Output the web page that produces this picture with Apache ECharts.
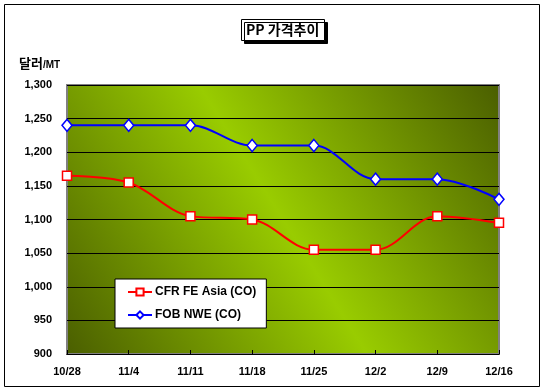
<!DOCTYPE html>
<html><head><meta charset="utf-8">
<script src="https://cdn.jsdelivr.net/npm/echarts@6/dist/echarts.min.js"></script>
<style>html,body{margin:0;padding:0;background:#fff}#c{width:542px;height:388px}</style>
</head><body><div id="c"></div>
<script>
const categories = ['10/28','11/4','11/11','11/18','11/25','12/2','12/9','12/16'];
const cfrAsia = [1165,1155,1105,1100,1055,1055,1105,1095];
const fobNwe = [1240,1240,1240,1210,1210,1160,1160,1130];
const seriesNames = ['CFR FE Asia (CO)','FOB NWE (CO)'];
const yMin = 900, yMax = 1300, yStep = 50;

const FF = 'Liberation Sans, Arial, Noto Sans CJK KR, sans-serif';
const chart = echarts.init(document.getElementById('c'));
chart.setOption({
  animation: false,
  backgroundColor: '#fff',
  title: {
    text: 'PP 가격추이',
    left: 241, top: 19,
    padding: [4, 5, 4, 5],
    backgroundColor: '#fff',
    borderColor: '#000', borderWidth: 1,
    shadowColor: '#000', shadowOffsetX: 3, shadowOffsetY: 3, shadowBlur: 0,
    textStyle: { fontFamily: 'Noto Sans CJK KR, ' + FF, fontWeight: 'bold', fontSize: 14, color: '#000' }
  },
  graphic: [
    { type: 'rect', left: 2, top: 2, shape: { width: 535, height: 382 }, style: { fill: 'none', stroke: '#000', lineWidth: 1 }, z: -10 },
    { type: 'text', left: 19, top: 57, style: { rich: {
        a: { fontFamily: 'Noto Sans CJK KR', fontWeight: 'bold', fontSize: 13, fill: '#000' },
        b: { fontFamily: FF, fontWeight: 'bold', fontSize: 10, fill: '#000', padding: [3,0,0,0] } },
        text: '{a|달러}{b|/MT}' } }
  ],
  legend: {
    orient: 'vertical', left: 115, top: 279,
    padding: [7, 10, 7, 12],
    itemGap: 11,
    backgroundColor: '#fff', borderColor: '#000', borderWidth: 1,
    itemWidth: 24, itemHeight: 9,
    textStyle: { fontFamily: FF, fontWeight: 'bold', fontSize: 12, color: '#000', padding: [0,0,0,-2] },
    data: seriesNames
  },
  grid: {
    left: 67, right: 43, top: 85, bottom: 34,
    show: true,
    borderColor: '#808080', borderWidth: 2,
    backgroundColor: {
      type: 'linear', x: 0, y: 1, x2: 1, y2: 0,
      colorStops: [
        { offset: 0, color: '#4a5e00' },
        { offset: 0.5, color: '#99cc00' },
        { offset: 1, color: '#4a5e00' }
      ]
    }
  },
  xAxis: {
    type: 'category', data: categories, boundaryGap: false,
    axisLine: { lineStyle: { color: '#000', width: 1 } },
    axisTick: { inside: true, length: 4, lineStyle: { color: '#000' } },
    axisLabel: { fontFamily: FF, fontWeight: 'bold', fontSize: 11, color: '#000', margin: 12 },
    splitLine: { show: false }
  },
  yAxis: {
    type: 'value', min: yMin, max: yMax, interval: yStep,
    axisLine: { show: false }, axisTick: { show: false },
    axisLabel: { fontFamily: FF, fontWeight: 'bold', fontSize: 11, color: '#000', margin: 15,
      formatter: v => v.toLocaleString('en-US') },
    splitLine: { lineStyle: { color: '#000', width: 1 } }
  },
  series: [
    { name: seriesNames[0], type: 'line', data: cfrAsia, smooth: 0.35,
      symbol: 'rect', symbolSize: 9,
      lineStyle: { color: '#ff0000', width: 2 },
      itemStyle: { color: '#fff', borderColor: '#ff0000', borderWidth: 1.5 } },
    { name: seriesNames[1], type: 'line', data: fobNwe, smooth: 0.35,
      symbol: 'diamond', symbolSize: [10, 12],
      lineStyle: { color: '#0000ff', width: 2 },
      itemStyle: { color: '#fff', borderColor: '#0000ff', borderWidth: 1.5 } }
  ]
});
</script></body></html>
